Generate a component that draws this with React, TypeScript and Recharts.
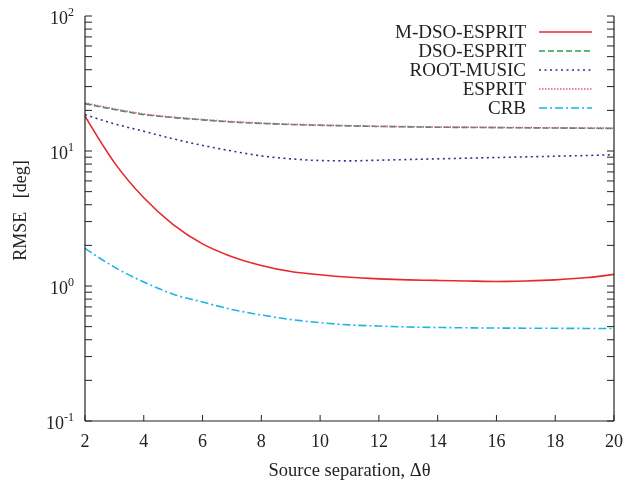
import { LineChart, Line, XAxis, YAxis, Legend } from 'recharts';

const separation = [2, 3, 4, 5, 6, 7, 8, 9, 10, 11, 12, 13, 14, 15, 16, 17, 18, 19, 20];
const mDsoEsprit = [18.1, 8.2, 4.5, 2.85, 2.05, 1.65, 1.42, 1.28, 1.21, 1.16, 1.13, 1.11, 1.1, 1.09, 1.08, 1.09, 1.11, 1.15, 1.22];
const dsoEsprit = [22.4, 20.3, 18.6, 17.7, 17.0, 16.4, 16.0, 15.7, 15.5, 15.35, 15.2, 15.1, 15.0, 14.95, 14.9, 14.85, 14.8, 14.75, 14.7];
const rootMusic = [18.6, 15.9, 14.0, 12.3, 11.0, 10.0, 9.2, 8.75, 8.5, 8.45, 8.55, 8.65, 8.75, 8.85, 8.95, 9.05, 9.15, 9.25, 9.4];
const esprit = [22.7, 20.5, 18.8, 17.8, 17.1, 16.5, 16.1, 15.8, 15.55, 15.4, 15.25, 15.15, 15.05, 15.0, 14.95, 14.9, 14.85, 14.8, 14.75];
const crb = [1.9, 1.38, 1.07, 0.87, 0.76, 0.67, 0.61, 0.565, 0.535, 0.515, 0.505, 0.497, 0.493, 0.49, 0.488, 0.487, 0.486, 0.485, 0.484];

const xTicks = [2, 4, 6, 8, 10, 12, 14, 16, 18, 20];
const yTicks = [
  0.1, 0.2, 0.3, 0.4, 0.5, 0.6, 0.7, 0.8, 0.9,
  1, 2, 3, 4, 5, 6, 7, 8, 9,
  10, 20, 30, 40, 50, 60, 70, 80, 90, 100,
];

const data = separation.map((x, i) => ({
  x,
  mdso: mDsoEsprit[i],
  dso: dsoEsprit[i],
  root: rootMusic[i],
  esprit: esprit[i],
  crb: crb[i],
}));

const series = [
  { key: 'mdso', name: 'M-DSO-ESPRIT', color: '#e8272a', dash: undefined as string | undefined },
  { key: 'dso', name: 'DSO-ESPRIT', color: '#22a050', dash: '6 3' },
  { key: 'root', name: 'ROOT-MUSIC', color: '#2e3192', dash: '2 3.5' },
  { key: 'esprit', name: 'ESPRIT', color: '#e0529c', dash: '1.5 1.5' },
  { key: 'crb', name: 'CRB', color: '#1fb3e8', dash: '8 3 2 3' },
];

const AXIS = '#222';
const FONT = '"Liberation Serif", "DejaVu Serif", serif';

const isMajor = (v: number) => {
  const l = Math.log10(v);
  return Math.abs(l - Math.round(l)) < 1e-9;
};

function LeftTick({ x, y, payload }: any) {
  const v = payload.value;
  const major = isMajor(v);
  return (
    <g>
      <line x1={x} x2={x + 7} y1={y} y2={y} stroke={AXIS} strokeWidth={1} />
      {major && (
        <text x={x - 11} y={y + 8} textAnchor="end" fontSize={18} fill="#222" fontFamily={FONT}>
          10
          <tspan dy={-8} fontSize={12}>
            {Math.round(Math.log10(v))}
          </tspan>
        </text>
      )}
    </g>
  );
}

function RightTick({ x, y }: any) {
  return <line x1={x} x2={x - 7} y1={y} y2={y} stroke={AXIS} strokeWidth={1} />;
}

function BottomTick({ x, y, payload }: any) {
  return (
    <g>
      <line x1={x} x2={x} y1={y} y2={y - 6} stroke={AXIS} strokeWidth={1} />
      <text x={x} y={y + 26} textAnchor="middle" fontSize={18} fill="#222" fontFamily={FONT}>
        {payload.value}
      </text>
    </g>
  );
}

function TopTick({ x, y }: any) {
  return <line x1={x} x2={x} y1={y} y2={y + 6} stroke={AXIS} strokeWidth={1} />;
}

function LegendBox() {
  return (
    <div style={{ fontFamily: FONT, fontSize: 19, color: '#222' }}>
      {series.map((s) => (
        <div key={s.key} style={{ display: 'flex', alignItems: 'center', justifyContent: 'flex-end', height: 19 }}>
          <span style={{ lineHeight: '19px' }}>{s.name}</span>
          <svg width={53} height={10} style={{ marginLeft: 13 }}>
            <line x1={0} x2={53} y1={5} y2={5} stroke={s.color} strokeWidth={1.6} strokeDasharray={s.dash} />
          </svg>
        </div>
      ))}
    </div>
  );
}

export default function App() {
  return (
    <div style={{ position: 'fixed', left: 0, top: 0, width: 626, height: 487 }}>
      <LineChart
        width={626}
        height={487}
        data={data}
        margin={{ top: 16, right: 8, left: 8, bottom: 8 }}
        style={{ fontFamily: FONT, overflow: 'visible' }}
      >
        <XAxis
          xAxisId="bottom"
          dataKey="x"
          type="number"
          domain={[2, 20]}
          ticks={xTicks}
          interval={0}
          height={58}
          tickSize={0}
          tickMargin={0}
          tickLine={false}
          tick={<BottomTick />}
          axisLine={{ stroke: AXIS, strokeWidth: 1.2 }}
          label={(props: any) => {
            const vb = props.viewBox;
            return (
              <text x={vb.x + vb.width / 2} y={vb.y + 55} textAnchor="middle" fontSize={18.5} fill="#222" fontFamily={FONT}>
                Source separation, Δθ
              </text>
            );
          }}
        />
        <XAxis
          xAxisId="top"
          dataKey="x"
          type="number"
          orientation="top"
          domain={[2, 20]}
          ticks={xTicks}
          interval={0}
          height={0}
          tickSize={0}
          tickMargin={0}
          tickLine={false}
          tick={<TopTick />}
          axisLine={{ stroke: AXIS, strokeWidth: 1.2 }}
        />
        <YAxis
          yAxisId="left"
          scale="log"
          type="number"
          domain={[0.1, 100]}
          allowDataOverflow
          ticks={yTicks}
          interval={0}
          width={77}
          tickSize={0}
          tickMargin={0}
          tickLine={false}
          tick={<LeftTick />}
          axisLine={{ stroke: AXIS, strokeWidth: 1.2 }}
          label={(props: any) => {
            const vb = props.viewBox;
            const cx = vb.x + 12;
            const cy = vb.y + vb.height / 2 - 8;
            return (
              <text
                x={cx}
                y={cy}
                transform={`rotate(-90 ${cx} ${cy})`}
                textAnchor="middle"
                dominantBaseline="central"
                fontSize={18}
                fill="#222"
                fontFamily={FONT}
                style={{ whiteSpace: 'pre' }}
              >
                {'RMSE   [deg]'}
              </text>
            );
          }}
        />
        <YAxis
          yAxisId="right"
          orientation="right"
          scale="log"
          type="number"
          domain={[0.1, 100]}
          allowDataOverflow
          ticks={yTicks}
          interval={0}
          width={4}
          tickSize={0}
          tickMargin={0}
          tickLine={false}
          tick={<RightTick />}
          axisLine={{ stroke: AXIS, strokeWidth: 1.2 }}
        />
        <Legend
          layout="vertical"
          align="center"
          verticalAlign="middle"
          content={<LegendBox />}
          wrapperStyle={{ top: 22, right: 34, left: 'auto', width: 'auto' }}
        />
        {series.map((s) => (
          <Line
            key={s.key}
            xAxisId="bottom"
            yAxisId="left"
            type="monotone"
            dataKey={s.key}
            name={s.name}
            stroke={s.color}
            strokeWidth={1.6}
            strokeDasharray={s.dash}
            dot={false}
            activeDot={false}
            isAnimationActive={false}
          />
        ))}
      </LineChart>
    </div>
  );
}
